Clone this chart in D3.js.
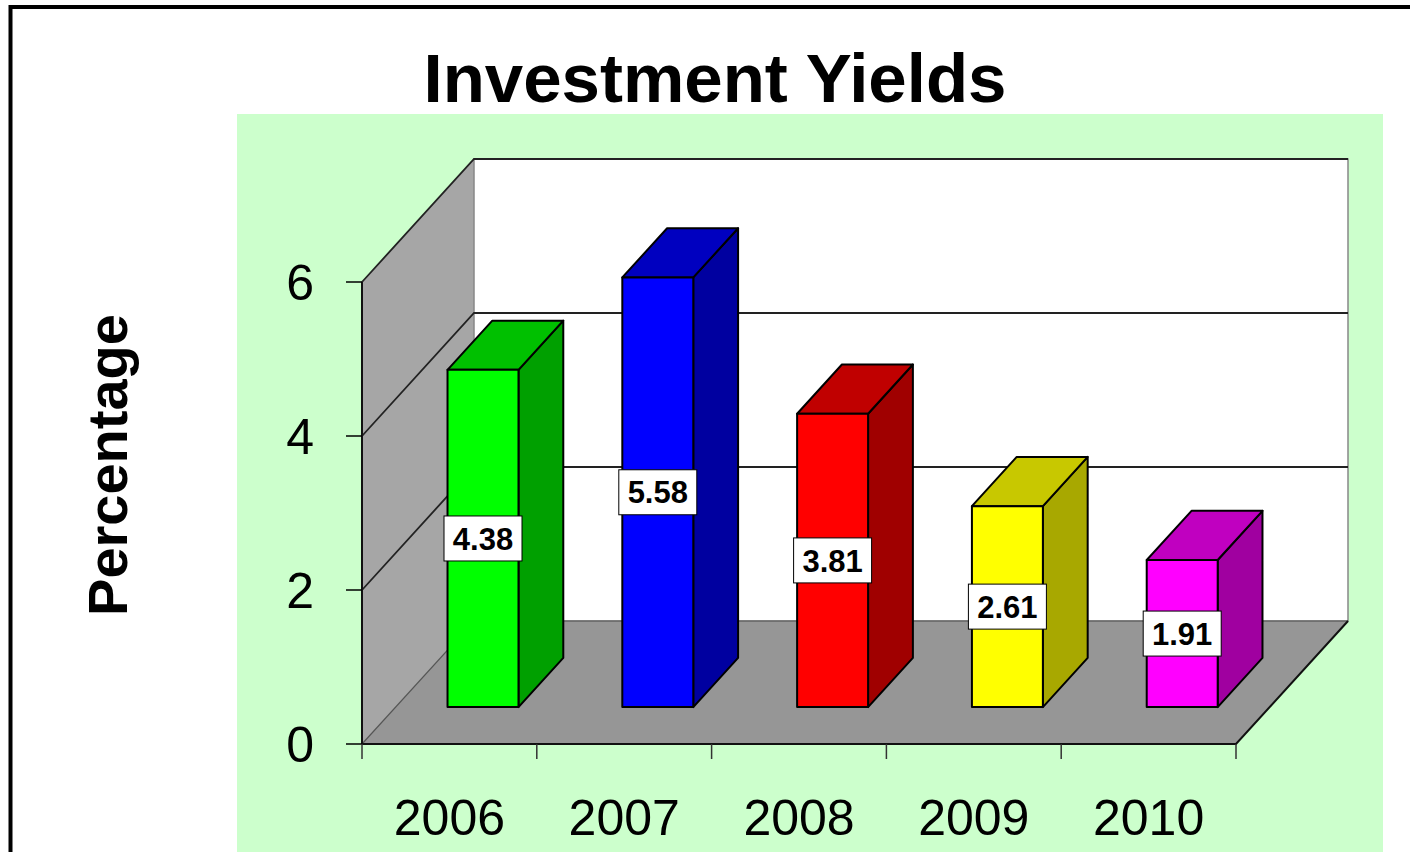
<!DOCTYPE html>
<html>
<head>
<meta charset="utf-8">
<script src="https://cdn.jsdelivr.net/npm/d3@7"></script>
<style>
  html, body { margin: 0; padding: 0; background: #ffffff; overflow: hidden; }
  svg { display: block; font-family: "Liberation Sans", Arial, sans-serif; }
</style>
</head>
<body>
<svg id="chart" width="1410" height="852"></svg>
<script>
const years = ["2006", "2007", "2008", "2009", "2010"];
const yields = [4.38, 5.58, 3.81, 2.61, 1.91];
const frontColors = ["#00ff00", "#0000ff", "#ff0000", "#ffff00", "#ff00ff"];
const topColors = ["#00c000", "#0000c0", "#c00000", "#c8c800", "#c000c0"];
const sideColors = ["#00a000", "#0000a0", "#a00000", "#a8a800", "#a000a0"];
const yTicks = [0, 2, 4, 6];
const titleText = "Investment Yields";
const yTitle = "Percentage";

const svg = d3.select("#chart");

// outer frame
svg.append("rect").attr("x", 10.5).attr("y", 7).attr("width", 1600).attr("height", 1000)
  .attr("fill", "#ffffff").attr("stroke", "#000").attr("stroke-width", 4);

// plot background
svg.append("rect").attr("x", 237).attr("y", 114).attr("width", 1146).attr("height", 800)
  .attr("fill", "#ccffcc");

// scales
const x = d3.scaleBand().domain(years).range([362, 1236]).paddingInner(0).paddingOuter(0);
const y = d3.scaleLinear().domain([0, 6]).range([744, 282]);
const DX = 112, DY = -123;
const P = (px, v, d) => [px + d * DX, y(v) + d * DY];
const x0 = x.range()[0], x1 = x.range()[1];
const yMax = d3.max(yTicks);
const line = d3.line();

// floor
svg.append("path")
  .attr("d", line([P(x0, 0, 0), P(x1, 0, 0), P(x1, 0, 1), P(x0, 0, 1)]) + "Z")
  .attr("fill", "#969696").attr("stroke", "none");
// side wall
svg.append("path")
  .attr("d", line([P(x0, 0, 0), P(x0, yMax, 0), P(x0, yMax, 1), P(x0, 0, 1)]) + "Z")
  .attr("fill", "#a6a6a6").attr("stroke", "none");
// back wall
svg.append("path")
  .attr("d", line([P(x0, 0, 1), P(x0, yMax, 1), P(x1, yMax, 1), P(x1, 0, 1)]) + "Z")
  .attr("fill", "#ffffff").attr("stroke", "#888").attr("stroke-width", 1.5);

// gridlines (back wall + side wall)
yTicks.filter(v => v > 0).forEach(v => {
  svg.append("path").attr("d", line([P(x0, v, 0), P(x0, v, 1), P(x1, v, 1)]))
    .attr("fill", "none").attr("stroke", "#222").attr("stroke-width", 1.8);
});
// floor/side diagonal at 0
svg.append("path").attr("d", line([P(x0, 0, 0), P(x0, 0, 1), P(x1, 0, 1)]))
  .attr("fill", "none").attr("stroke", "#555").attr("stroke-width", 1.2);
// floor front and right edges
svg.append("path").attr("d", line([P(x0, 0, 0), P(x1, 0, 0), P(x1, 0, 1)]))
  .attr("fill", "none").attr("stroke", "#111").attr("stroke-width", 2);
// y axis line
svg.append("path").attr("d", line([P(x0, 0, 0), P(x0, yMax, 0)]))
  .attr("fill", "none").attr("stroke", "#111").attr("stroke-width", 2);

// y ticks & labels
const yAxis = svg.append("g");
yTicks.forEach(v => {
  yAxis.append("line").attr("x1", x0 - 16).attr("x2", x0).attr("y1", y(v)).attr("y2", y(v))
    .attr("stroke", "#000").attr("stroke-width", 1.5);
  yAxis.append("text").attr("x", 314).attr("y", y(v)).attr("dy", "0.36em")
    .attr("text-anchor", "end").attr("font-size", 50).attr("fill", "#000").text(v);
});

// x ticks & labels
const bounds = years.map(c => x(c)).concat([x1]);
bounds.forEach(b => {
  svg.append("line").attr("x1", b).attr("x2", b).attr("y1", y(0)).attr("y2", y(0) + 15)
    .attr("stroke", "#333").attr("stroke-width", 1.5);
});
years.forEach(c => {
  svg.append("text").attr("x", x(c) + x.bandwidth() / 2).attr("y", 835)
    .attr("text-anchor", "middle").attr("font-size", 50).attr("fill", "#000").text(c);
});

// bars
const bw = x.bandwidth() * 0.406;
const dF = 0.3, dB = 0.7;
years.forEach((c, i) => {
  const v = yields[i];
  const xl = x(c) + (x.bandwidth() - bw) / 2;
  const xr = xl + bw;
  const g = svg.append("g");
  // side
  g.append("path").attr("d", line([P(xr, 0, dF), P(xr, v, dF), P(xr, v, dB), P(xr, 0, dB)]) + "Z")
    .attr("fill", sideColors[i]).attr("stroke", "#000").attr("stroke-width", 2).attr("stroke-linejoin", "round");
  // top
  g.append("path").attr("d", line([P(xl, v, dF), P(xr, v, dF), P(xr, v, dB), P(xl, v, dB)]) + "Z")
    .attr("fill", topColors[i]).attr("stroke", "#000").attr("stroke-width", 2).attr("stroke-linejoin", "round");
  // front
  g.append("path").attr("d", line([P(xl, 0, dF), P(xr, 0, dF), P(xr, v, dF), P(xl, v, dF)]) + "Z")
    .attr("fill", frontColors[i]).attr("stroke", "#000").attr("stroke-width", 2).attr("stroke-linejoin", "round");
  // label
  const cx = (P(xl, 0, dF)[0] + P(xr, 0, dF)[0]) / 2;
  const cy = (P(xl, 0, dF)[1] + P(xl, v, dF)[1]) / 2;
  g.append("rect").attr("x", cx - 39).attr("y", cy - 22.5).attr("width", 78).attr("height", 45)
    .attr("fill", "#fff").attr("stroke", "#000").attr("stroke-width", 1);
  g.append("text").attr("x", cx).attr("y", cy).attr("dy", "0.36em").attr("text-anchor", "middle")
    .attr("font-size", 31).attr("font-weight", "bold").attr("fill", "#000").text(v.toFixed(2));
});

// title
svg.append("text").attr("x", 715).attr("y", 102).attr("text-anchor", "middle")
  .attr("font-size", 69).attr("font-weight", "bold").attr("fill", "#000").text(titleText);

// y title
svg.append("text").attr("transform", "translate(127,465) rotate(-90)")
  .attr("text-anchor", "middle").attr("font-size", 56).attr("font-weight", "bold")
  .attr("fill", "#000").text(yTitle);
</script>
</body>
</html>
